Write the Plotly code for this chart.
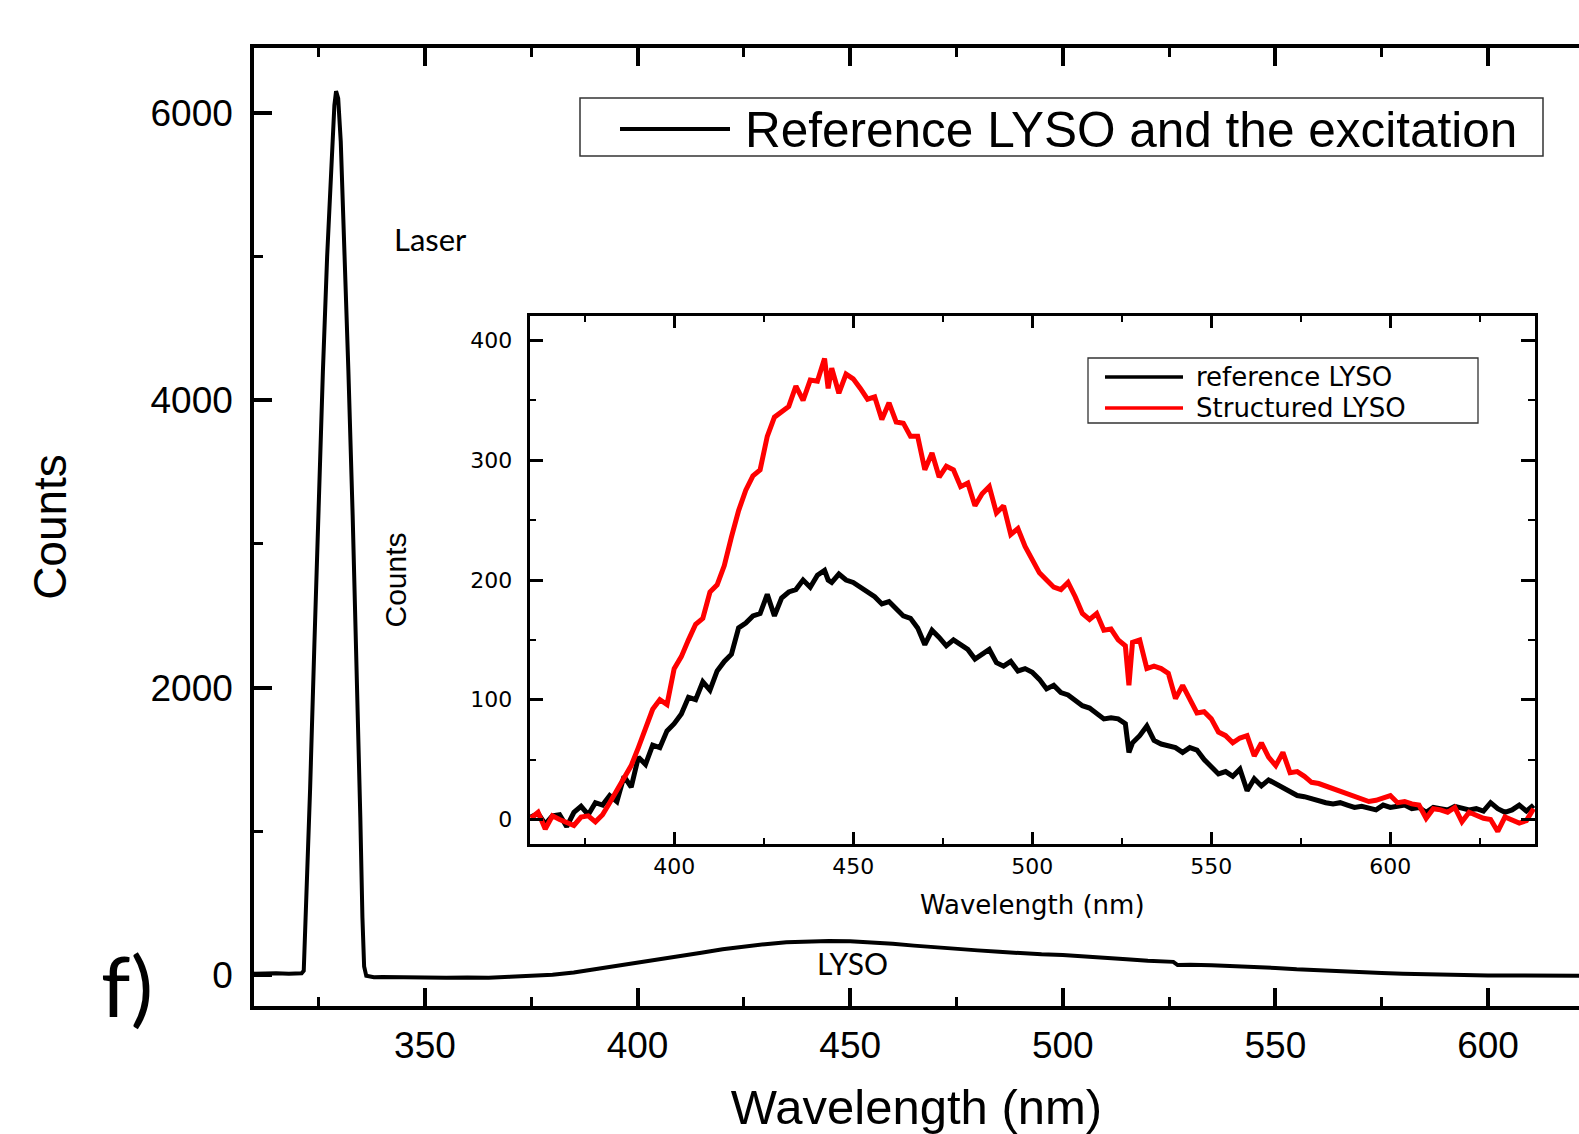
import plotly.graph_objects as go

# ---------------- data ----------------
# main panel: reference LYSO + laser excitation (full spectrum)
main_nm = [309.6, 312, 315, 318, 320, 321.0, 321.5, 322.0, 323.0, 324.0, 325.0, 326.0, 327.0,
           328.0, 328.7, 329.1, 329.6, 330.2, 331.0, 332.0, 333.0, 334.0, 334.8, 335.3,
           335.7, 336.2, 338, 340, 345, 350, 355, 360, 365, 370, 375, 380, 385, 390,
           395, 400, 405, 410, 415, 420, 425, 430, 435, 440, 445, 450, 455, 460, 465,
           470, 475, 480, 485, 490, 495, 500, 505, 510, 515, 520, 525, 526, 527, 530,
           535, 540, 545, 550, 555, 560, 565, 570, 575, 580, 585, 590, 595, 600, 605,
           610, 615, 620, 622]
main_counts = [10, 8, 12, 10, 14, 12, 30, 400, 1300, 2300, 3300, 4200, 5000,
               5650, 6050, 6150, 6100, 5800, 5150, 4200, 3200, 2100, 1100, 400,
               60, -5, -15, -14, -17, -15, -18, -16, -18, -12, -6, 2, 18, 40,
               62, 88, 112, 132, 155, 180, 200, 215, 228, 235, 238, 236, 228, 218, 205,
               192, 182, 172, 162, 152, 145, 140, 128, 120, 110, 100, 95, 92, 70, 72,
               68, 64, 58, 50, 40, 32, 26, 20, 14, 9, 5, 2, 0, -2, -3,
               -5, -4, -5, -4]

# inset: emission spectra
inset_nm = [360, 362, 364, 366, 368, 370, 372, 374, 376, 378, 380, 382, 384, 386, 388, 390,
            392, 394, 396, 398, 400, 402, 404, 406, 408, 410, 412, 414, 416, 418, 420, 422,
            424, 426, 428, 430, 432, 434, 436, 438, 440, 442, 443, 444, 446, 448, 450, 452,
            454, 456, 458, 460, 462, 464, 466, 468, 470, 472, 474, 476, 478, 480, 482, 484,
            486, 488, 490, 492, 494, 496, 498, 500, 502, 504, 506, 508, 510, 512, 514, 516,
            518, 520, 522, 524, 526, 527, 528, 530, 532, 534, 536, 538, 540, 542, 544, 546,
            548, 550, 552, 554, 556, 558, 560, 562, 564, 566, 568, 570, 572, 574, 576, 578,
            580, 582, 584, 586, 588, 590, 592, 594, 596, 598, 600, 602, 604, 606, 608, 610,
            612, 614, 616, 618, 620, 622, 624, 626, 628, 630, 632, 634, 636, 638, 640]
reference_lyso = [2, 5, -4, 3, 4, -6, 6, 11, 4, 14, 12, 20, 15, 36, 27, 52,
                  46, 62, 60, 74, 80, 88, 102, 100, 115, 108, 124, 132, 138, 160, 164, 170,
                  172, 188, 170, 185, 190, 192, 200, 194, 204, 208, 200, 198, 205, 200, 198, 194,
                  190, 186, 180, 182, 176, 170, 168, 160, 146, 158, 152, 145, 150, 146, 142, 134,
                  138, 142, 131, 128, 132, 124, 126, 123, 117, 109, 112, 106, 104, 100, 95, 93,
                  88, 84, 85, 84, 80, 56, 64, 70, 78, 66, 63, 62, 60, 56, 60, 58,
                  50, 44, 38, 40, 36, 42, 24, 34, 28, 33, 30, 26, 24, 20, 19, 17,
                  15, 14, 13, 14, 12, 10, 11, 9, 8, 12, 10, 11, 12, 9, 10, 6,
                  10, 9, 8, 11, 10, 8, 9, 7, 14, 9, 6, 8, 12, 7, 12]
structured_lyso = [1, 6, -8, 3, 0, -2, -5, 2, 3, -2, 4, 14, 24, 36, 45, 60,
                   76, 92, 100, 96, 126, 136, 150, 163, 168, 190, 196, 212, 236, 258, 275, 287,
                   292, 320, 336, 340, 345, 362, 350, 367, 366, 385, 360, 377, 356, 372, 368, 360,
                   351, 353, 334, 348, 332, 331, 320, 320, 292, 306, 286, 295, 292, 278, 281, 262,
                   272, 278, 256, 262, 238, 243, 228, 217, 206, 200, 194, 192, 198, 186, 172, 167,
                   172, 158, 159, 150, 145, 112, 148, 150, 126, 128, 126, 122, 101, 112, 100, 89,
                   90, 84, 73, 70, 64, 68, 70, 53, 64, 52, 45, 56, 39, 40, 36, 31,
                   30, 28, 26, 23, 22, 20, 18, 15, 16, 18, 20, 14, 15, 13, 12, 1,
                   9, 8, 6, 10, -2, 6, 3, 1, 0, -10, 2, 0, -3, -1, 9]

main_xticks = [350, 400, 450, 500, 550, 600]
main_yticks = [0, 2000, 4000, 6000]
inset_xticks = [400, 450, 500, 550, 600]
inset_yticks = [0, 100, 200, 300, 400]

main_legend_text = "Reference LYSO and the excitation"
inset_legend_texts = ["reference LYSO", "Structured LYSO"]

# ---------------- figure ----------------
W, H = 1579, 1134
ML, MR, MT, MB = 254, 0, 48, 128
PW, PH = W - ML - MR, H - MT - MB


def px(xp):
    return (xp - ML) / PW


def py(yp):
    return (MT + PH - yp) / PH


fig = go.Figure()

fig.add_trace(go.Scatter(x=main_nm, y=main_counts, mode="lines",
                         line=dict(color="black", width=4),
                         name=main_legend_text, showlegend=False,
                         xaxis="x", yaxis="y"))
fig.add_trace(go.Scatter(x=inset_nm, y=reference_lyso, mode="lines",
                         line=dict(color="black", width=5),
                         name=inset_legend_texts[0], showlegend=False,
                         xaxis="x2", yaxis="y2"))
fig.add_trace(go.Scatter(x=inset_nm, y=structured_lyso, mode="lines",
                         line=dict(color="#ff0000", width=5),
                         name=inset_legend_texts[1], showlegend=False,
                         xaxis="x2", yaxis="y2"))

main_font = dict(family="Liberation Sans, Arial, sans-serif", size=37, color="black")
inset_font = dict(family="DejaVu Sans, Verdana, sans-serif", size=22, color="black")

fig.update_layout(
    width=W, height=H,
    margin=dict(l=ML, r=MR, t=MT, b=MB, pad=0),
    paper_bgcolor="white", plot_bgcolor="white",
    showlegend=False,
    xaxis=dict(
        domain=[0, 1], range=[309.8, 621.4],
        tickvals=main_xticks, ticks="inside", ticklen=18, tickwidth=3.5,
        tickcolor="black", showline=True, linewidth=3.5, linecolor="black",
        mirror="ticks", showgrid=False, zeroline=False,
        tickfont=main_font, ticklabelstandoff=4,
        minor=dict(dtick=25, tick0=0, ticks="inside", ticklen=9, tickwidth=3,
                   tickcolor="black", showgrid=False),
        title=dict(text="Wavelength (nm)",
                   font=dict(family="Liberation Sans, Arial, sans-serif", size=49, color="black"),
                   standoff=42),
        automargin=False,
    ),
    yaxis=dict(
        domain=[0, 1], range=[-215, 6450],
        tickvals=main_yticks, ticks="inside", ticklen=18, tickwidth=3.5,
        tickcolor="black", showline=True, linewidth=3.5, linecolor="black",
        mirror=False, showgrid=False, zeroline=False,
        tickfont=main_font, ticklabelstandoff=10,
        minor=dict(dtick=1000, tick0=0, ticks="inside", ticklen=9, tickwidth=3,
                   tickcolor="black", showgrid=False),
        title=dict(text="Counts",
                   font=dict(family="Liberation Sans, Arial, sans-serif", size=46, color="black"),
                   standoff=70),
        automargin=False,
    ),
    xaxis2=dict(
        domain=[px(529.5), px(1535)], range=[359.6, 640.4], anchor="y2",
        tickvals=inset_xticks, ticks="inside", ticklen=12, tickwidth=2.5,
        tickcolor="black", showline=True, linewidth=2.5, linecolor="black",
        mirror="ticks", showgrid=False, zeroline=False,
        tickfont=inset_font, ticklabelstandoff=1,
        minor=dict(dtick=25, tick0=0, ticks="inside", ticklen=6, tickwidth=2,
                   tickcolor="black", showgrid=False),
        title=dict(text="Wavelength (nm)",
                   font=dict(family="DejaVu Sans, Verdana, sans-serif", size=26, color="black"),
                   standoff=18),
        automargin=False,
    ),
    yaxis2=dict(
        domain=[py(844), py(316)], range=[-20.5, 420.5], anchor="x2",
        tickvals=inset_yticks, ticks="inside", ticklen=14, tickwidth=2.5,
        tickcolor="black", showline=True, linewidth=2.5, linecolor="black",
        mirror="ticks", showgrid=False, zeroline=False,
        tickfont=inset_font, ticklabelstandoff=10,
        minor=dict(dtick=50, tick0=0, ticks="inside", ticklen=7, tickwidth=2,
                   tickcolor="black", showgrid=False),
        title=dict(text="Counts",
                   font=dict(family="Liberation Sans Narrow, Arial Narrow, Liberation Sans, sans-serif",
                             size=30, color="black"),
                   standoff=55),
        automargin=False,
    ),
)

# ---------------- hand-drawn legends (long line samples as in the original) ----------------
shapes = []
# main legend
shapes.append(dict(type="rect", xref="paper", yref="paper",
                   x0=px(580), x1=px(1543), y0=py(156), y1=py(98),
                   line=dict(color="#333333", width=1.5), fillcolor="white", layer="above"))
shapes.append(dict(type="line", xref="paper", yref="paper",
                   x0=px(620), x1=px(730), y0=py(129), y1=py(129),
                   line=dict(color="black", width=4), layer="above"))
# inset legend
shapes.append(dict(type="rect", xref="paper", yref="paper",
                   x0=px(1088), x1=px(1478), y0=py(423), y1=py(358),
                   line=dict(color="#333333", width=1.3), fillcolor="white", layer="above"))
shapes.append(dict(type="line", xref="paper", yref="paper",
                   x0=px(1105), x1=px(1183), y0=py(377), y1=py(377),
                   line=dict(color="black", width=3.5), layer="above"))
shapes.append(dict(type="line", xref="paper", yref="paper",
                   x0=px(1105), x1=px(1183), y0=py(408), y1=py(408),
                   line=dict(color="#ff0000", width=3.5), layer="above"))
fig.update_layout(shapes=shapes)

annots = [
    dict(text=main_legend_text, x=px(743), y=py(129), xanchor="left", yanchor="middle",
         font=dict(family="Liberation Sans, Arial, sans-serif", size=49.5, color="black")),
    dict(text=inset_legend_texts[0], x=px(1194), y=py(377), xanchor="left", yanchor="middle",
         font=dict(family="DejaVu Sans, Verdana, sans-serif", size=26, color="black")),
    dict(text=inset_legend_texts[1], x=px(1194), y=py(408), xanchor="left", yanchor="middle",
         font=dict(family="DejaVu Sans, Verdana, sans-serif", size=26, color="black")),
    dict(text="Laser", x=px(430), y=py(239), xanchor="center", yanchor="middle",
         font=dict(family="Lato, Open Sans, sans-serif", size=31, color="black")),
    dict(text="LYSO", x=px(852), y=py(963), xanchor="center", yanchor="middle",
         font=dict(family="Lato, Open Sans, sans-serif", size=30, color="black")),
    dict(text="f)", x=px(127), y=py(984), xanchor="center", yanchor="middle",
         font=dict(family="Lato, Open Sans, sans-serif", size=84, color="black")),
]
for a in annots:
    a.update(xref="paper", yref="paper", showarrow=False)
fig.update_layout(annotations=annots)

# place the figure at the very top-left corner of the page (no default body margin)
fig.write_html("out.html",
               config={"displayModeBar": False},
               post_script="document.body.style.margin='0px';document.body.style.overflow='hidden';")
